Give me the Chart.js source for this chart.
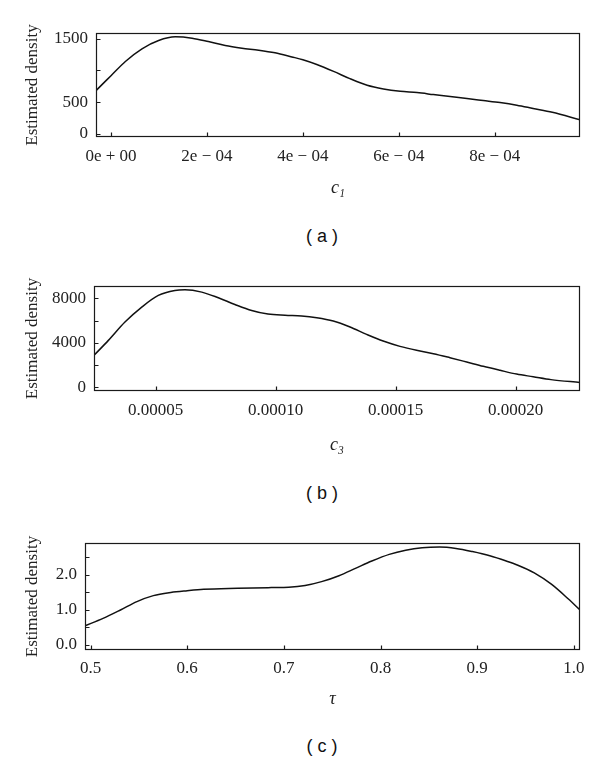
<!DOCTYPE html>
<html>
<head>
<meta charset="utf-8">
<script src="https://cdn.jsdelivr.net/npm/chart.js@4.4.1/dist/chart.umd.min.js"></script>
<style>
  html, body { margin: 0; padding: 0; background: #fff; }
  #pagina { position: relative; width: 600px; height: 761px; overflow: hidden; }
  canvas { position: absolute; left: 0; }
  .leyenda {
    position: absolute; left: 222px; width: 200px; text-align: center;
    font-family: "Liberation Sans", Arial, sans-serif; font-size: 18px;
    line-height: 20px; color: #111;
  }
</style>
</head>
<body>
<div id="pagina">
  <canvas id="graficoA" width="600" height="215" style="top:0px"></canvas>
  <div class="leyenda" style="top:226px">( a )</div>
  <canvas id="graficoB" width="600" height="215" style="top:255px"></canvas>
  <div class="leyenda" style="top:483px">( b )</div>
  <canvas id="graficoC" width="600" height="215" style="top:510px"></canvas>
  <div class="leyenda" style="top:736px">( c )</div>
</div>
<script>
// panel (a): c1
const c1Values = [-0.3125e-4, -0.1875e-4, 0, 0.30e-4, 0.646e-4, 0.993e-4, 1.34e-4, 1.69e-4, 2.03e-4, 2.38e-4,
  2.73e-4, 3.08e-4, 3.42e-4, 3.77e-4, 4.0e-4, 4.29e-4, 4.64e-4, 4.98e-4, 5.34e-4, 5.68e-4,
  6.03e-4, 6.38e-4, 6.72e-4, 7.07e-4, 7.42e-4, 7.76e-4, 8.11e-4, 8.46e-4, 8.80e-4, 9.20e-4, 9.777e-4];
const c1Density = [682, 776, 918, 1143, 1343, 1474, 1532, 1511, 1458, 1395,
  1353, 1322, 1280, 1215, 1170, 1095, 986, 871, 766, 708,
  671, 650, 619, 587, 556, 525, 493, 451, 399, 338, 222];
const c1Ticks = [0, 2e-4, 4e-4, 6e-4, 8e-4];
const c1TickLabels = ["0e + 00", "2e \u2212 04", "4e \u2212 04", "6e \u2212 04", "8e \u2212 04"];
const c1DensityTicks = [0, 500, 1000, 1500];
const c1DensityLabels = ["0", "500", "", "1500"];

// panel (b): c3
const c3Values = [2.43e-5, 3.03e-5, 3.72e-5, 4.42e-5, 5.11e-5, 5.80e-5, 6.22e-5, 6.92e-5, 7.61e-5, 8.30e-5,
  9.00e-5, 9.68e-5, 10.39e-5, 11.08e-5, 11.71e-5, 12.40e-5, 13.10e-5, 13.79e-5, 14.48e-5, 15.18e-5,
  15.87e-5, 16.57e-5, 17.26e-5, 17.96e-5, 18.65e-5, 19.35e-5, 20.04e-5, 20.73e-5, 21.47e-5, 22.68e-5];
const c3Density = [2876, 4224, 5872, 7220, 8269, 8718, 8778, 8569, 8059, 7460,
  6921, 6591, 6480, 6420, 6262, 5962, 5423, 4764, 4164, 3685,
  3326, 3026, 2666, 2277, 1887, 1528, 1190, 950, 690, 440];
const c3Ticks = [5e-5, 10e-5, 15e-5, 20e-5];
const c3TickLabels = ["0.00005", "0.00010", "0.00015", "0.00020"];
const c3DensityTicks = [0, 2000, 4000, 6000, 8000];
const c3DensityLabels = ["0", "", "4000", "", "8000"];

// panel (c): tau
const tauValues = [0.4943, 0.513, 0.531, 0.548, 0.565, 0.583, 0.600, 0.617, 0.652, 0.687,
  0.705, 0.722, 0.739, 0.757, 0.774, 0.791, 0.809, 0.826, 0.843, 0.861,
  0.878, 0.895, 0.913, 0.930, 0.942, 0.959, 0.977, 0.994, 1.0063];
const tauDensity = [0.55, 0.76, 1.00, 1.24, 1.41, 1.50, 1.55, 1.59, 1.62, 1.64,
  1.65, 1.70, 1.81, 1.98, 2.19, 2.40, 2.59, 2.71, 2.78, 2.80,
  2.76, 2.67, 2.55, 2.40, 2.28, 2.06, 1.73, 1.32, 1.00];
const tauTicks = [0.5, 0.6, 0.7, 0.8, 0.9, 1.0];
const tauTickLabels = ["0.5", "0.6", "0.7", "0.8", "0.9", "1.0"];
const tauDensityTicks = [0, 0.5, 1.0, 1.5, 2.0, 2.5];
const tauDensityLabels = ["0.0", "", "1.0", "", "2.0", ""];

const serif = "'Liberation Serif', 'DejaVu Serif', serif";
const colorTexto = "#222";

// marco completo y marcas de eje hacia dentro
const marcoPlugin = {
  id: "marco",
  afterDatasetsDraw(chart) {
    const { ctx, chartArea: a, scales } = chart;
    const l = Math.round(a.left) + 0.5, r = Math.round(a.right) - 0.5;
    const t = Math.round(a.top) + 0.5, b = Math.round(a.bottom) - 0.5;
    ctx.save();
    ctx.strokeStyle = "#1a1a1a";
    ctx.lineWidth = 1.2;
    ctx.strokeRect(l, t, r - l, b - t);
    ctx.beginPath();
    scales.x.ticks.forEach((tick) => {
      const px = Math.round(scales.x.getPixelForValue(tick.value)) + 0.5;
      ctx.moveTo(px, b);
      ctx.lineTo(px, b - 4);
    });
    scales.y.ticks.forEach((tick) => {
      const py = Math.round(scales.y.getPixelForValue(tick.value)) + 0.5;
      ctx.moveTo(l, py);
      ctx.lineTo(l + 4, py);
    });
    ctx.stroke();
    ctx.restore();
  },
};

function crearGrafico(id, cfg) {
  const puntos = cfg.xs.map((x, i) => ({ x: x, y: cfg.ys[i] }));
  return new Chart(document.getElementById(id), {
    type: "line",
    data: {
      datasets: [{
        data: puntos,
        borderColor: "#111",
        borderWidth: 1.5,
        pointRadius: 0,
        cubicInterpolationMode: "monotone",
        fill: false,
      }],
    },
    options: {
      responsive: false,
      animation: false,
      devicePixelRatio: 1,
      layout: { padding: { top: cfg.top, right: 20, left: 0, bottom: 0 } },
      plugins: { legend: { display: false }, tooltip: { enabled: false } },
      scales: {
        x: {
          type: "linear",
          bounds: "data",
          min: cfg.xs[0],
          max: cfg.xs[cfg.xs.length - 1],
          afterBuildTicks: (s) => { s.ticks = cfg.xTicks.map((v) => ({ value: v })); },
          afterFit: (s) => { s.height = cfg.xHeight; },
          grid: { display: false, drawTicks: false },
          border: { display: false },
          ticks: {
            autoSkip: false, maxRotation: 0, padding: cfg.xPad, color: colorTexto,
            font: { family: serif, size: 17, lineHeight: 1.2 },
            callback: (v, i) => cfg.xLabels[i],
          },
          title: {
            display: true, text: cfg.xTitle, color: colorTexto,
            font: { family: serif, size: 18, style: "italic", lineHeight: 1.2 },
            padding: { top: 0, bottom: cfg.xTitlePad },
          },
        },
        y: {
          type: "linear",
          bounds: "data",
          min: cfg.yMin,
          max: cfg.yMax,
          afterBuildTicks: (s) => { s.ticks = cfg.yTicks.map((v) => ({ value: v })); },
          afterFit: (s) => { s.width = cfg.yWidth; },
          grid: { display: false, drawTicks: false },
          border: { display: false },
          ticks: {
            autoSkip: false, padding: 8, color: colorTexto,
            font: { family: serif, size: 17, lineHeight: 1.2 },
            callback: (v, i) => cfg.yLabels[i],
          },
          title: {
            display: true, text: "Estimated density", color: colorTexto,
            font: { family: serif, size: 17, lineHeight: 1.2 },
            padding: { top: 22, bottom: 0 },
          },
        },
      },
    },
    plugins: [marcoPlugin],
  });
}

crearGrafico("graficoA", {
  xs: c1Values, ys: c1Density, xTicks: c1Ticks, xLabels: c1TickLabels,
  yTicks: c1DensityTicks, yLabels: c1DensityLabels, yMin: -52, yMax: 1593,
  xTitle: "c\u2081", top: 33, yWidth: 96, xHeight: 78, xPad: 9, xTitlePad: 16,
});

crearGrafico("graficoB", {
  xs: c3Values, ys: c3Density, xTicks: c3Ticks, xLabels: c3TickLabels,
  yTicks: c3DensityTicks, yLabels: c3DensityLabels, yMin: -334, yMax: 9120,
  xTitle: "c\u2083", top: 31, yWidth: 94, xHeight: 79, xPad: 9, xTitlePad: 14,
});

crearGrafico("graficoC", {
  xs: tauValues, ys: tauDensity, xTicks: tauTicks, xLabels: tauTickLabels,
  yTicks: tauDensityTicks, yLabels: tauDensityLabels, yMin: -0.143, yMax: 2.914,
  xTitle: "\u03c4", top: 33, yWidth: 85, xHeight: 75, xPad: 8, xTitlePad: 15,
});
</script>
</body>
</html>
